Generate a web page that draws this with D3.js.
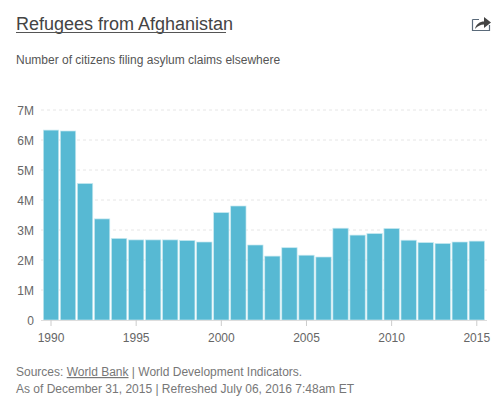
<!DOCTYPE html>
<html><head><meta charset="utf-8">
<script src="https://cdn.jsdelivr.net/npm/d3@7"></script>
<style>
html,body{margin:0;padding:0;background:#fff}
svg{display:block}
text{font-family:"Liberation Sans",Arial,sans-serif}
</style></head><body>
<svg id="c" width="500" height="407"></svg>
<script>
const years=[1990,1991,1992,1993,1994,1995,1996,1997,1998,1999,2000,2001,2002,2003,2004,2005,2006,2007,2008,2009,2010,2011,2012,2013,2014,2015];
const refugees=[6.33,6.3,4.55,3.37,2.72,2.67,2.67,2.67,2.65,2.6,3.58,3.8,2.5,2.13,2.41,2.16,2.1,3.06,2.83,2.88,3.05,2.66,2.58,2.55,2.6,2.63];
const yTicks=[0,1,2,3,4,5,6,7];
const xTicks=[1990,1995,2000,2005,2010,2015];
const titleText="Refugees from Afghanistan";
const subtitleText="Number of citizens filing asylum claims elsewhere";

const svg=d3.select("#c");
const x=d3.scaleBand().domain(years).range([42.5,485.3]).paddingInner(0.1).paddingOuter(0.05);
const y=d3.scaleLinear().domain([0,7]).range([320,110]);

svg.append("text").attr("x",16).attr("y",30).attr("font-size",18).attr("fill","#444").text(titleText);
svg.append("line").attr("x1",16).attr("x2",226).attr("y1",32.5).attr("y2",32.5).attr("stroke","#555").attr("stroke-width",1);
svg.append("text").attr("x",16).attr("y",64).attr("font-size",12).attr("fill","#555").text(subtitleText);

// share icon
const icon=svg.append("g").attr("transform","translate(472,16)");
icon.append("path").attr("d","M0.5 3.5H7M17.5 9V14.5H0.5V3.5").attr("fill","none").attr("stroke","#5a6a7a").attr("stroke-width",1.2);
icon.append("path").attr("d","M3 13C4 8 8 5.5 12 5.5V1L19 6.5L12 12V8.5C8.5 8.5 5.5 10 3 13Z").attr("fill","#444");

// grid
svg.append("g").selectAll("line").data(yTicks.filter(d=>d>0)).join("line")
  .attr("x1",41).attr("x2",487).attr("y1",d=>y(d)).attr("y2",d=>y(d))
  .attr("stroke","#e6e6e6").attr("stroke-width",1).attr("stroke-dasharray","3,3");

// bars
svg.append("g").selectAll("rect").data(years).join("rect")
  .attr("x",d=>x(d)).attr("width",x.bandwidth())
  .attr("y",(d,i)=>y(refugees[i])).attr("height",(d,i)=>y(0)-y(refugees[i]))
  .attr("fill","#57b9d3").attr("stroke","#c5e8f0").attr("stroke-width",0.7);

// axes
const cx=d=>x(d)+x.bandwidth()/2;
svg.append("line").attr("x1",41).attr("x2",487).attr("y1",320.5).attr("y2",320.5).attr("stroke","#ddd");
svg.append("g").selectAll("line").data(xTicks).join("line")
  .attr("x1",cx).attr("x2",cx).attr("y1",320).attr("y2",326).attr("stroke","#ccc");
svg.append("g").selectAll("text").data(xTicks).join("text")
  .attr("x",cx).attr("y",342).attr("text-anchor","middle").attr("font-size",12).attr("fill","#666").text(d=>d);
svg.append("g").selectAll("text").data(yTicks).join("text")
  .attr("x",34).attr("y",d=>y(d)+5).attr("text-anchor","end").attr("font-size",12).attr("fill","#666").text(d=>d===0?"0":d+"M");

// footer
const f1=svg.append("text").attr("x",16).attr("y",376).attr("font-size",12).attr("fill","#777");
f1.append("tspan").text("Sources: ");
f1.append("tspan").attr("text-decoration","underline").text("World Bank");
f1.append("tspan").text(" | World Development Indicators.");
svg.append("text").attr("x",16).attr("y",393).attr("font-size",12).attr("fill","#777")
  .text("As of December 31, 2015 | Refreshed July 06, 2016 7:48am ET");
</script></body></html>
